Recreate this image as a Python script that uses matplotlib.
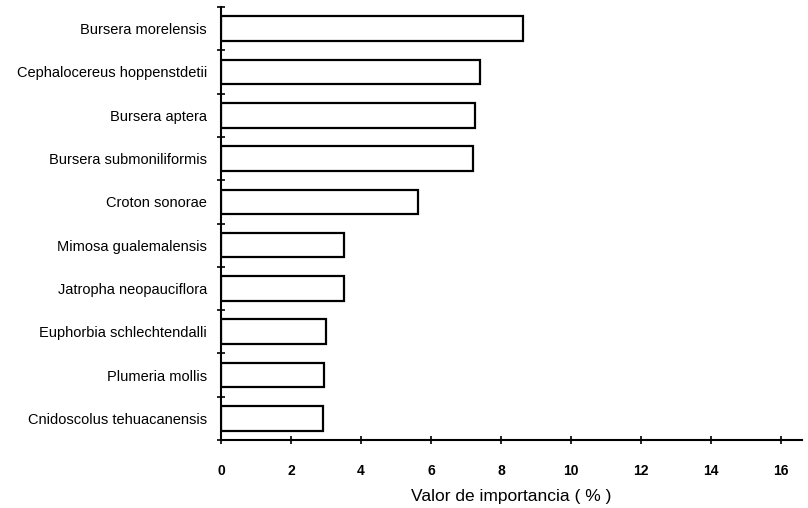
import matplotlib
matplotlib.use("Agg")
import matplotlib.pyplot as plt
import numpy as np

species = ["Bursera morelensis", "Cephalocereus hoppenstdetii", "Bursera aptera",
           "Bursera submoniliformis", "Croton sonorae", "Mimosa gualemalensis",
           "Jatropha neopauciflora", "Euphorbia schlechtendalli", "Plumeria mollis",
           "Cnidoscolus tehuacanensis"]
values = [8.64, 7.40, 7.26, 7.21, 5.64, 3.51, 3.52, 3.00, 2.95, 2.90]
xticks = [0, 2, 4, 6, 8, 10, 12, 14, 16]

plt.rcParams['font.family'] = ['Liberation Sans', 'DejaVu Sans']

fig = plt.figure(figsize=(8.08, 5.08), dpi=100)
ax = fig.add_axes([221/808, 68/508, 581/808, 433/508])

y = np.arange(len(species))
ax.barh(y, values, height=0.57, color='white', edgecolor='black', linewidth=1.6)
ax.set_ylim(len(species) - 0.5, -0.5)
ax.set_xlim(0, 16.6)

ax.set_yticks(y)
ax.set_yticklabels(species, fontsize=10.5)
ax.set_yticks(np.arange(len(species) + 1) - 0.5, minor=True)
ax.tick_params(axis='y', which='major', length=0, pad=10)
ax.tick_params(axis='y', which='minor', length=6, direction='inout', width=1.2)

ax.set_xticks(xticks)
ax.set_xticklabels([str(t) for t in xticks], fontsize=10, fontweight='bold')
ax.tick_params(axis='x', length=6, direction='inout', width=1.2, pad=14)
ax.set_xlabel("Valor de importancia ( % )", fontsize=12.5, labelpad=8)

for s in ['top', 'right']:
    ax.spines[s].set_visible(False)
for s in ['left', 'bottom']:
    ax.spines[s].set_linewidth(1.5)

fig.savefig("out.png", dpi=100)
